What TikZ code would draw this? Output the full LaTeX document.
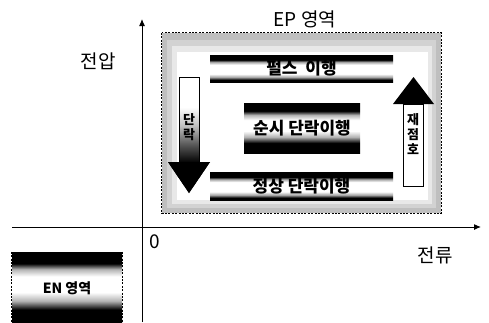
\documentclass[tikz,border=0pt]{standalone}
\usepackage{fontspec}
\setmainfont{Noto Sans CJK KR}
\usetikzlibrary{arrows.meta}
\pgfdeclareverticalshading{barshade}{100bp}{color(0bp)=(black); color(25bp)=(black); color(29bp)=(black); color(34bp)=(gray!70); color(40bp)=(white); color(57bp)=(white); color(62bp)=(gray!70); color(66bp)=(black); color(75bp)=(black); color(100bp)=(black)}
\pgfdeclareverticalshading{boxshade}{100bp}{color(0bp)=(black); color(25bp)=(black); color(35bp)=(black); color(41bp)=(gray!60); color(47bp)=(white); color(58bp)=(white); color(63bp)=(gray!60); color(67bp)=(black); color(75bp)=(black); color(100bp)=(black)}
\pgfdeclareverticalshading{downshade}{100bp}{color(0bp)=(black); color(25bp)=(black); color(38bp)=(black); color(46bp)=(gray!70!black); color(54bp)=(gray!50); color(62bp)=(white); color(75bp)=(white); color(100bp)=(white)}
\tikzset{
  lbl/.style={font=\fontsize{19}{19}\selectfont, inner sep=0pt},
  barbox/.style={shading=#1, inner sep=0pt, font=\bfseries\fontsize{17}{17}\selectfont},
  arrowtxt/.style={font=\bfseries\fontsize{13}{15}\selectfont, inner sep=0pt, align=center},
  axis/.style={line width=1pt, -{Latex[length=7pt,width=6pt]}},
  dashbox/.style={dash pattern=on 2pt off 1.4pt, line width=0.9pt},
}
\begin{document}
\begin{tikzpicture}[x=1pt,y=-1pt]
\useasboundingbox (0,0) rectangle (489,322);
\fill[white] (0,0) rectangle (489,322);
% EP region
\node[fill=gray!50, minimum width=279pt, minimum height=180pt, inner sep=0pt] (ep) at (301.5,123) {};
\fill[gray!35] (167,40) rectangle (436,208);
\fill[gray!18] (172,46) rectangle (432,204);
\fill[white] (177,52) rectangle (428,200);
\draw[dashbox] (ep.north west) rectangle (ep.south east);
\node[lbl] (eptitle) at (305,19) {EP 영역};
% axes
\coordinate (ybot) at (142,322);
\coordinate (ytop) at (142,19);
\coordinate (xleft) at (12,227);
\coordinate (xright) at (481,227);
\draw[axis] (ybot) -- (ytop);
\draw[axis] (xleft) -- (xright);
\node[lbl] (volt) at (98,61) {전압};
\node[lbl] (curr) at (435,255) {전류};
\node[lbl] (zero) at (155,242) {0};
% bars
\node[barbox=barshade, minimum width=183pt, minimum height=27pt] (pulse) at (301.5,68.5) {펄스\ \ 이행};
\node[barbox=boxshade, minimum width=116pt, minimum height=50pt] (inst) at (302,128) {순시 단락이행};
\node[barbox=barshade, minimum width=183pt, minimum height=28pt] (normal) at (301.5,186) {정상 단락이행};
% left arrow (short circuit)
\path[shading=downshade] (179,77) -- (199,77) -- (199,162) -- (210,162) -- (189,193) -- (168,162) -- (179,162) -- cycle;
\draw[line width=0.6pt] (179,162) -- (179,77) -- (199,77) -- (199,162);
\fill[black] (168,162) -- (210,162) -- (189,193) -- cycle;
\node[arrowtxt] (dan) at (189,127) {단\\락};
% right arrow (reignition)
\draw[fill=white, line width=0.8pt] (403,186) rectangle (423,104);
\fill[black] (393,104) -- (434,104) -- (413.5,77) -- cycle;
\node[arrowtxt] (jae) at (413,134) {재\\점\\호};
% EN region
\node[barbox=boxshade, minimum width=110pt, minimum height=72pt, font=\bfseries\fontsize{14}{14}\selectfont] (en) at (67,288) {EN 영역};
\draw[dashbox] (en.north west) -- (en.south west) (en.north east) -- (en.south east);
\end{tikzpicture}
\end{document}
